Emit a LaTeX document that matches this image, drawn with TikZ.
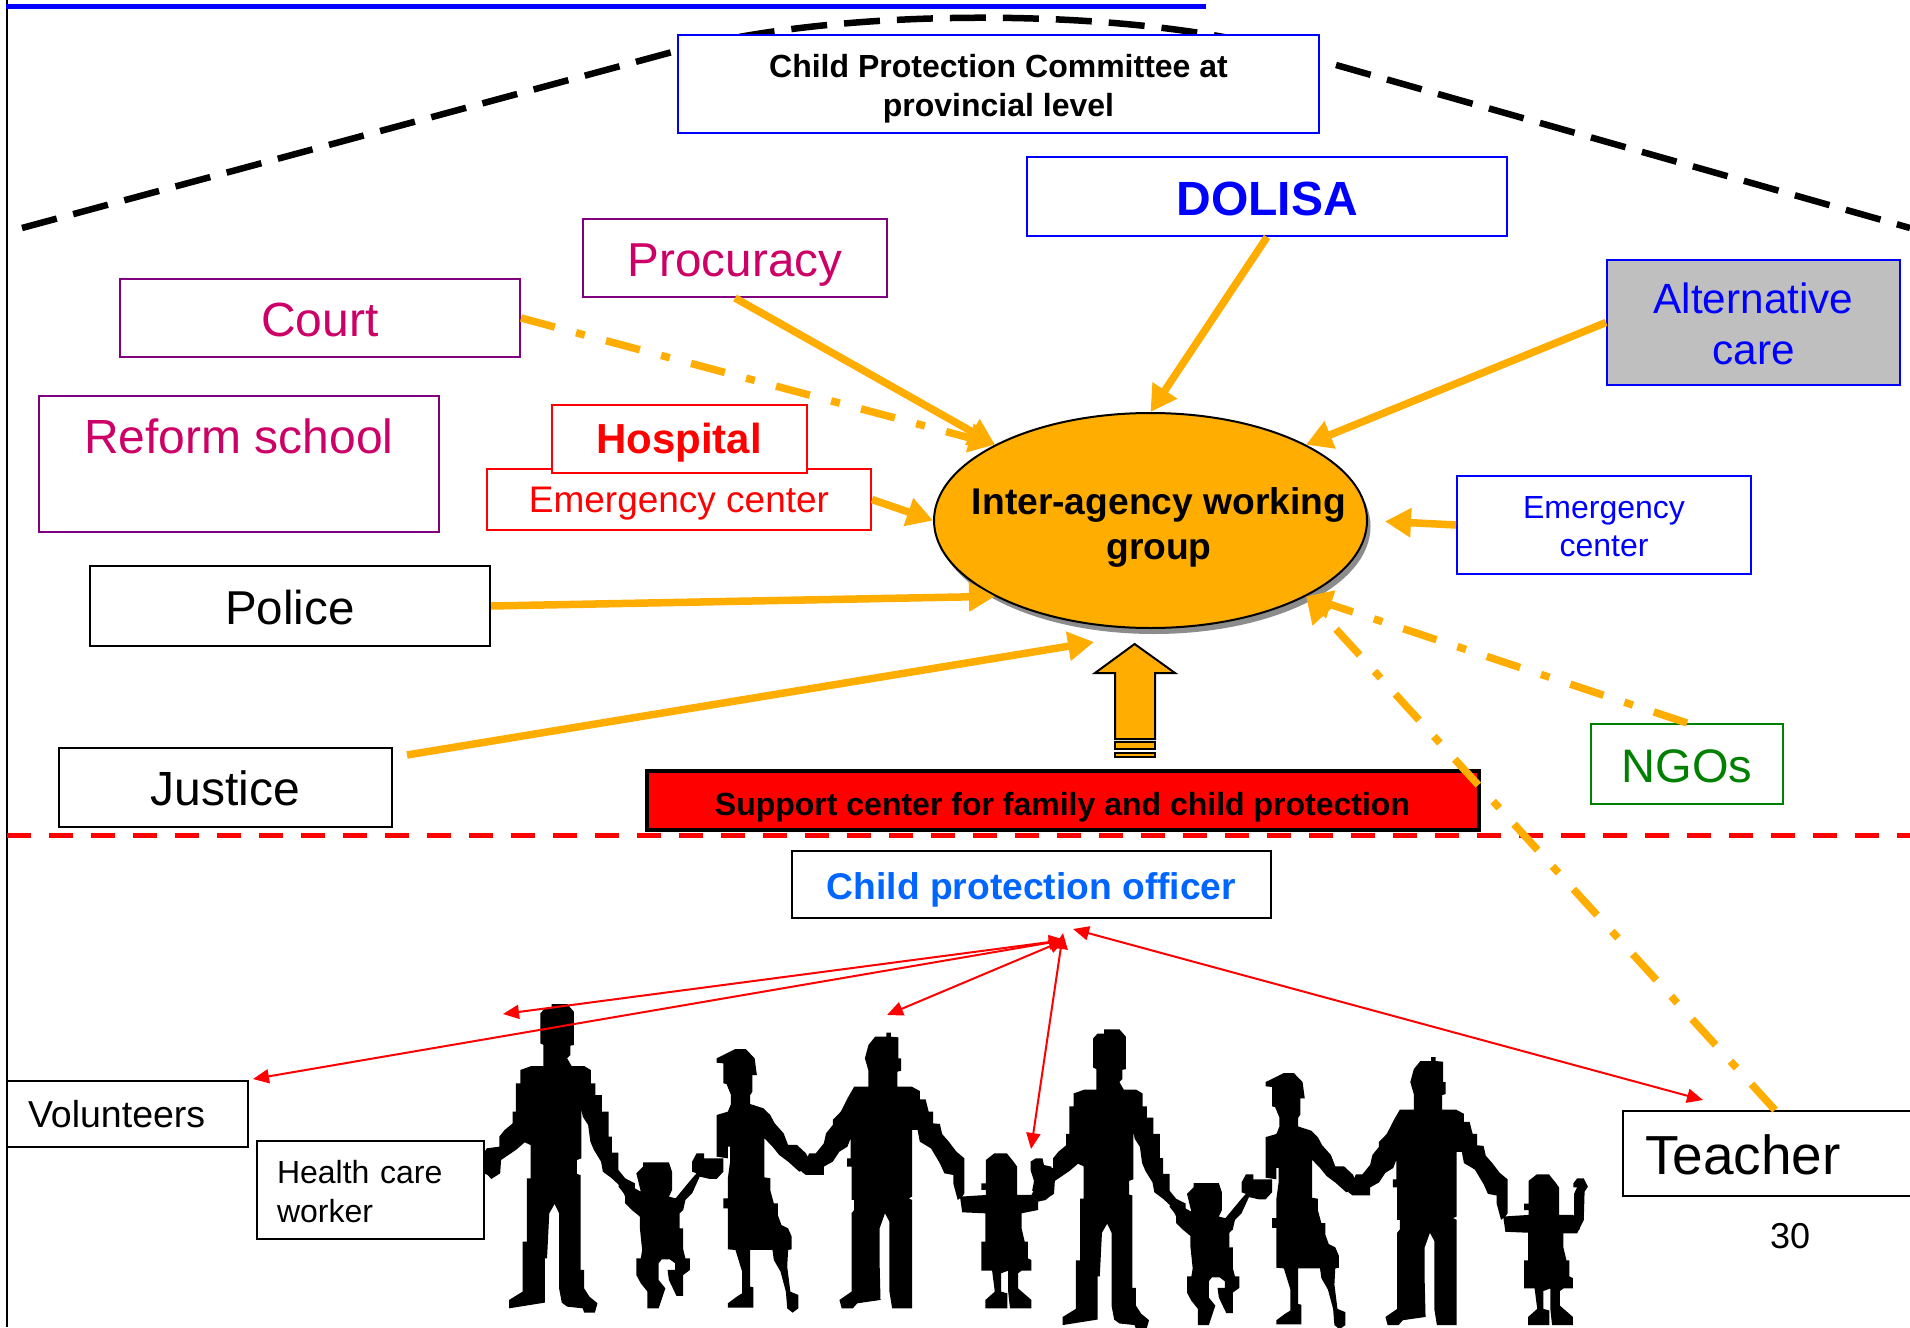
\documentclass[tikz,border=0pt]{standalone}
\usepackage{fontspec}
\setmainfont{Liberation Sans}
\usetikzlibrary{arrows.meta,shapes.geometric}
\definecolor{orng}{HTML}{FFAD00}
\definecolor{plum}{HTML}{800080}
\definecolor{rose}{HTML}{CC0066}
\definecolor{grn}{HTML}{008000}
\definecolor{skyb}{HTML}{0066FF}
\newcommand{\fs}[2]{\fontsize{#1}{#2}\selectfont}
\newcommand{\onel}[2]{\raisebox{-#1pt}[0pt][0pt]{#2}}
\newcommand{\stkc}[2]{\raisebox{-#1pt}[0pt][0pt]{\begin{tabular}[t]{@{}c@{}}#2\end{tabular}}}
\newcommand{\stkl}[2]{\raisebox{-#1pt}[0pt][0pt]{\begin{tabular}[t]{@{}l@{}}#2\end{tabular}}}
\newcommand{\famfill}{%
\fill (205,72)--(240,72)--(255,95)--(255,195)--(247,197)--(247,225)--(240,235)--(250,258)--(278,258)--(293,270)--(293,310)--(303,310)--(303,345)--(318,345)--(318,395)--(333,395)--(333,470)--(340,470)--(340,518)--(355,518)--(355,570)--(370,595)--(392,610)--(392,650)--(370,650)--(360,620)--(340,595)--(320,575)--(316,545)--(300,510)--(292,485)--(287,435)--(275,410)--(272,388)--(272,535)--(262,540)--(262,582)--(270,585)--(270,870)--(278,870)--(278,925)--(290,950)--(308,970)--(302,998)--(278,998)--(275,985)--(240,980)--(228,968)--(222,925)--(222,700)--(212,672)--(200,700)--(195,835)--(190,835)--(190,968)--(110,985)--(110,960)--(140,935)--(140,785)--(150,785)--(150,595)--(158,595)--(158,495)--(145,487)--(125,510)--(92,540)--(90,580)--(70,597)--(62,585)--(40,570)--(45,535)--(60,505)--(88,500)--(88,470)--(100,450)--(118,430)--(118,395)--(125,395)--(125,310)--(135,310)--(135,270)--(160,258)--(187,258)--(187,195)--(180,190)--(180,100)--(190,85)--(205,85)--cycle;
\fill (410,547)--(468,547)--(475,575)--(475,630)--(468,650)--(483,655)--(520,595)--(530,580)--(520,575)--(520,545)--(530,520)--(547,520)--(547,535)--(590,535)--(590,575)--(575,597)--(560,597)--(537,590)--(520,640)--(505,660)--(500,690)--(492,700)--(492,745)--(500,745)--(500,808)--(505,835)--(515,835)--(515,870)--(500,885)--(500,948)--(485,948)--(468,900)--(465,870)--(482,870)--(482,850)--(470,838)--(452,838)--(445,850)--(445,900)--(460,925)--(445,985)--(420,985)--(420,935)--(405,910)--(395,885)--(395,835)--(405,835)--(408,810)--(403,745)--(403,710)--(385,690)--(370,670)--(370,645)--(355,620)--(358,600)--(405,635)--(395,580)--(410,560)--cycle;
\fill (590,225)--(617,207)--(640,207)--(660,235)--(665,285)--(655,285)--(655,335)--(650,345)--(650,372)--(680,385)--(695,405)--(705,430)--(725,460)--(735,495)--(755,495)--(775,520)--(785,545)--(775,570)--(760,575)--(735,545)--(715,525)--(700,500)--(682,475)--(682,592)--(695,595)--(695,630)--(703,670)--(712,670)--(712,705)--(720,735)--(735,745)--(743,770)--(743,808)--(735,810)--(733,860)--(740,935)--(758,945)--(758,985)--(745,998)--(733,985)--(730,935)--(718,875)--(703,840)--(700,810)--(650,810)--(650,920)--(657,922)--(657,983)--(600,983)--(600,970)--(620,950)--(632,940)--(632,875)--(617,810)--(600,808)--(600,685)--(590,685)--(590,655)--(600,655)--(600,595)--(605,545)--(605,500)--(600,500)--(600,535)--(575,530)--(575,405)--(600,395)--(607,372)--(607,345)--(597,312)--(590,310)--(590,250)--(575,248)--(575,235)--cycle;
\fill (930,170)--(955,170)--(955,158)--(965,158)--(965,170)--(982,172)--(982,235)--(988,235)--(988,272)--(980,275)--(980,320)--(1012,320)--(1030,333)--(1030,358)--(1043,358)--(1050,395)--(1060,395)--(1060,430)--(1075,432)--(1080,462)--(1095,485)--(1112,515)--(1130,535)--(1130,590)--(1130,640)--(1125,650)--(1115,660)--(1105,610)--(1105,585)--(1085,580)--(1075,550)--(1055,505)--(1030,485)--(1025,450)--(1013,450)--(1013,650)--(1005,655)--(1013,660)--(1013,985)--(968,985)--(962,935)--(962,725)--(952,700)--(940,745)--(940,850)--(942,960)--(890,970)--(880,985)--(855,985)--(850,960)--(877,935)--(877,700)--(883,690)--(883,660)--(877,660)--(877,560)--(867,560)--(867,535)--(875,535)--(875,475)--(868,500)--(850,515)--(835,545)--(815,560)--(815,585)--(775,585)--(765,575)--(775,545)--(782,520)--(797,520)--(815,490)--(820,460)--(835,435)--(835,420)--(853,395)--(868,355)--(883,320)--(915,320)--(915,272)--(907,235)--(915,195)--cycle;
\fill (1197,520)--(1225,520)--(1240,545)--(1248,560)--(1248,645)--(1280,645)--(1295,665)--(1295,690)--(1258,700)--(1258,745)--(1265,785)--(1272,785)--(1272,835)--(1280,840)--(1280,872)--(1258,872)--(1250,880)--(1250,925)--(1280,960)--(1280,985)--(1232,985)--(1228,935)--(1228,872)--(1212,880)--(1212,935)--(1226,940)--(1226,985)--(1177,985)--(1177,960)--(1198,935)--(1192,872)--(1168,872)--(1168,785)--(1177,785)--(1177,700)--(1125,697)--(1120,650)--(1178,645)--(1178,630)--(1168,630)--(1168,610)--(1178,610)--(1178,540)--cycle;
}
\tikzset{
  bx/.style={draw,fill=white,line width=2pt,inner sep=0pt,align=center},
  orngline/.style={draw=orng,line width=7.5pt,-{Triangle[length=26pt,width=28pt]}},
  orngdash/.style={orngline,dash pattern=on 35pt off 22pt on 9pt off 22pt},
  redarrow/.style={draw=red,line width=2pt,{Triangle[length=16pt,width=14pt]}-{Triangle[length=16pt,width=14pt]}}
}
\begin{document}
\begin{tikzpicture}[x=1pt,y=-1pt]
\clip (0,0) rectangle (1910,1327);
\fill[white] (0,0) rectangle (1910,1327);
% frame marks
\draw[line width=2pt] (7,0) -- (7,1327);
\draw[blue,line width=5pt] (6,7) -- (1206,7);
% dashed arc
\draw[line width=6.5pt,dash pattern=on 36pt off 17pt]
  (22,228) -- (676,51) .. controls (840,6) and (1140,6) .. (1300,55);
\draw[line width=6.5pt,dash pattern=on 36pt off 17pt] (1336,65) -- (1910,228);
% silhouettes
\begin{scope}[shift={(460,980)},xscale=0.4464,yscale=0.3333]
\famfill
\fill (1280,645)--(1290,620)--(1278,570)--(1278,545)--(1290,535)--(1305,535)--(1308,555)--(1325,560)--(1328,640)--(1312,660)--(1295,665)--cycle;
\end{scope}
\begin{scope}[shift={(565.3,53.4)},xscale=0.977,yscale=0.972]
\begin{scope}[shift={(460,980)},xscale=0.4464,yscale=0.3333]
\famfill
\end{scope}
\end{scope}
\begin{scope}[shift={(1000,980)},xscale=0.4146,yscale=0.3333]
\fill (1352,708)--(1385,708)--(1385,640)--(1392,622)--(1383,622)--(1383,610)--(1392,595)--(1408,595)--(1418,620)--(1410,635)--(1408,720)--(1392,760)--(1352,760)--cycle;
\end{scope}
% dashed separator
\draw[red,line width=5pt,dash pattern=on 24pt off 18pt] (7,835.5) -- (1910,835.5);
% ellipse
\fill[gray!90] (1154,526.5) ellipse (216.5 and 107.5);
\node[ellipse,draw,fill=orng,line width=2pt,inner sep=0pt,minimum width=433pt,minimum height=215pt] (iawg) at (1150.5,520.5) {};
\node[align=center,inner sep=0pt,font=\fs{37.2}{45}\bfseries] (iawgtext) at (1159,525) {\stkc{-11}{Inter-agency working\\group}};
% boxes
\node[bx,draw=blue,minimum width=641pt,minimum height=98pt,font=\fs{32}{39}\bfseries] (cpc) at (998.5,84) {\stkc{-6.4}{Child Protection Committee at\\provincial level}};
\node[bx,draw=blue,text=blue,minimum width=480pt,minimum height=79pt,font=\fs{48}{56}\bfseries] (dolisa) at (1267,196.5) {\onel{18.7}{DOLISA}};
\node[bx,draw=plum,text=rose,minimum width=304pt,minimum height=78pt,font=\fs{47.6}{56}] (proc) at (735,258) {\onel{18.5}{Procuracy}};
\node[bx,draw=plum,text=rose,minimum width=400pt,minimum height=78pt,font=\fs{48}{56}] (court) at (320,318) {\onel{18.5}{Court}};
\node[bx,draw=plum,text=rose,minimum width=400pt,minimum height=136pt,font=\fs{48}{56}] (reform) at (239,464) {\onel{-10.5}{Reform school}};
\node[bx,draw=red,text=red,minimum width=384pt,minimum height=61pt,font=\fs{37}{44}] (emred) at (679,499.5) {\onel{12.7}{Emergency center}};
\node[bx,draw=red,text=red,minimum width=255pt,minimum height=68pt,font=\fs{42}{50}\bfseries] (hosp) at (679,439) {\onel{14.5}{Hospital}};
\node[bx,minimum width=400pt,minimum height=80pt,font=\fs{47.5}{56}] (police) at (290,606) {\onel{18}{Police}};
\node[bx,minimum width=333pt,minimum height=79pt,font=\fs{48}{56}] (justice) at (225.5,787.5) {\onel{18}{Justice}};
\node[bx,draw=blue,text=blue,fill=black!25,minimum width=293pt,minimum height=125pt,font=\fs{42.3}{51}] (alt) at (1753.5,322.5) {\stkc{-8.6}{Alternative\\care}};
\node[bx,draw=blue,text=blue,minimum width=294pt,minimum height=98pt,font=\fs{32}{38}] (emblue) at (1604,525) {\stkc{-6.5}{Emergency\\center}};
\node[bx,draw=grn,text=grn,minimum width=192pt,minimum height=80pt,font=\fs{47}{56}] (ngo) at (1687,764) {\onel{18}{NGOs}};
\node[bx,fill=red,line width=4pt,minimum width=832pt,minimum height=59pt,font=\fs{32}{38}\bfseries] (support) at (1062.5,800.5) {\onel{15}{Support center for family and child protection}};
\node[bx,text=skyb,minimum width=479pt,minimum height=67pt,font=\fs{37.2}{44}\bfseries] (cpo) at (1031.5,884.5) {\onel{15}{Child protection officer}};
\node[bx,anchor=west,text width=199pt,inner xsep=21pt,align=left,minimum height=66pt,font=\fs{37.5}{44}] (vol) at (6,1113.5) {\onel{13.5}{Volunteers}};
\node[bx,anchor=west,text width=187pt,inner xsep=20pt,align=left,minimum height=98pt,font=\fs{32}{39}] (health) at (256,1190) {\stkl{-6.5}{Health care\\worker}};
\node[bx,anchor=west,text width=272pt,inner xsep=22pt,align=left,minimum height=85pt,font=\fs{55}{60}] (teacher) at (1622,1153) {\onel{21}{Teacher}};
\node[inner sep=0pt,font=\fs{36}{42}] (pagenum) at (1790,1236) {30};
% block arrow
\draw[fill=orng,line width=2pt,line join=miter] (1115,739) -- (1115,673) -- (1095,673) -- (1134.6,644) -- (1175,673) -- (1155,673) -- (1155,739) -- cycle;
\draw[fill=orng,line width=2pt] (1115,742) rectangle (1155,749);
\draw[fill=orng,line width=2pt] (1115,753) rectangle (1155,757);
% free connector ends
\coordinate (justiceout) at (407,755);
\coordinate (justicetip) at (1094,642);
\coordinate (teacherout) at (1775,1110);
\coordinate (hub) at (1065,940);
\coordinate (hubr) at (1073,929);
\coordinate (hubv) at (1063,933);
\coordinate (manA) at (503,1014);
\coordinate (volin) at (253,1079);
\coordinate (manB) at (887,1015);
\coordinate (girlA) at (1031,1149);
\coordinate (teachin) at (1703,1100);
% orange connectors
\path[orngdash] (court.east) -- (iawg.154);
\path[orngline] (proc.south) -- (iawg.154);
\path[orngline] (dolisa.south) -- (iawg.north);
\path[orngline] (alt.west) -- (iawg.26);
\path[orngline] (emred.east) -- (iawg.west);
\path[orngline,shorten >=17pt] (emblue.west) -- (iawg.east);
\path[orngline] (police.east) -- (iawg.206);
\path[orngline] (justiceout) -- (justicetip);
\path[orngdash] (ngo.north) -- (iawg.334);
\path[orngdash] (teacherout) -- (iawg.334);
% red connectors
\path[redarrow] (hub) -- (manA);
\path[redarrow] (hub) -- (volin);
\path[redarrow] (hub) -- (manB);
\path[redarrow] (hubv) -- (girlA);
\path[redarrow] (hubr) -- (teachin);
\end{tikzpicture}
\end{document}
